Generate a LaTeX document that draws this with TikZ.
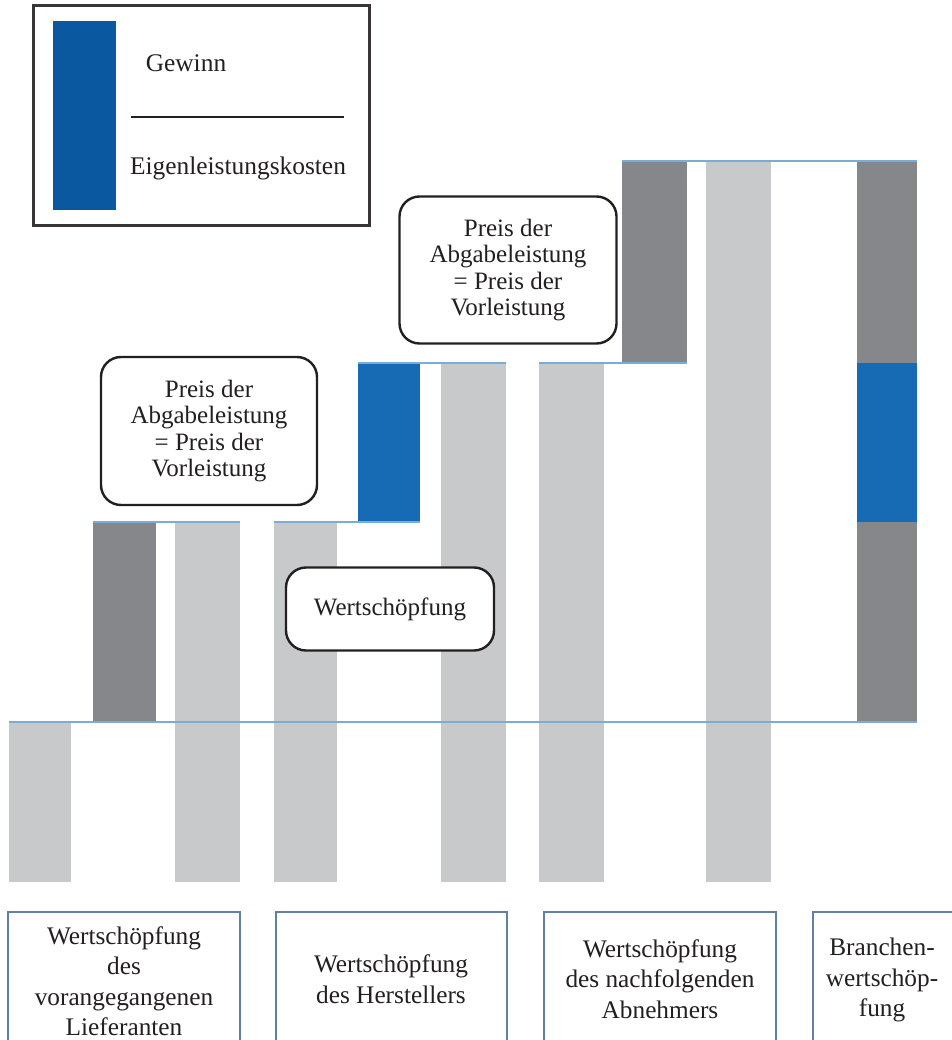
\documentclass[tikz,border=0pt]{standalone}
\usepackage{fontspec}
\setmainfont{Liberation Serif}
\usetikzlibrary{positioning}
\definecolor{BarLight}{RGB}{200,201,203}
\definecolor{BarDark}{RGB}{134,135,139}
\definecolor{BarBlue}{RGB}{23,107,180}
\definecolor{LegendBlue}{RGB}{10,88,160}
\definecolor{StepLine}{RGB}{122,172,216}
\definecolor{FrameBlue}{RGB}{98,128,162}
\definecolor{InkBlack}{RGB}{35,31,32}

\begin{document}
\begin{tikzpicture}[
    x=1pt, y=-1pt,
    light/.style={fill=BarLight},
    dark/.style={fill=BarDark},
    gain/.style={fill=BarBlue},
    level/.style={draw=StepLine, line width=2.2pt},
    callout/.style={draw=InkBlack, line width=2.4pt, rounded corners=20pt, fill=white, align=center, text=InkBlack, font=\fontsize{25}{26.5}\selectfont, inner sep=0pt},
    stage/.style={draw=FrameBlue, line width=2.4pt},
    stagetext/.style={align=center, text=InkBlack, font=\fontsize{25.3}{30.5}\selectfont}
]
    \useasboundingbox (0,0) rectangle (951,1040);

    % legend
    \draw[draw=InkBlack!90, line width=3pt] (33,6) rectangle (369,226);
    \fill[LegendBlue] (53,21) rectangle (116,210);
    \node[text=InkBlack, font=\fontsize{25.4}{27}\selectfont] (gewinn) at (186,63) {Gewinn};
    \node[text=InkBlack, font=\fontsize{25.4}{27}\selectfont] (kosten) at (238,168) {Eigenleistungskosten};
    \draw[draw=InkBlack, line width=2.6pt] (131,117) -- (344,117);

    % bars
    \fill[light] (9,722) rectangle (71,882);
    \fill[dark] (93,522) rectangle (156,722);
    \fill[light] (175,522) rectangle (240,882);
    \fill[light] (274,522) rectangle (337,882);
    \fill[gain] (358,363) rectangle (420,522);
    \fill[light] (441,363) rectangle (506,882);
    \fill[light] (539,363) rectangle (604,882);
    \fill[dark] (622,161) rectangle (687,363);
    \fill[light] (706,161) rectangle (771,882);
    \fill[dark] (857,161) rectangle (917,363);
    \fill[gain] (857,363) rectangle (917,522);
    \fill[dark] (857,522) rectangle (917,722);

    % levels
    \draw[draw=StepLine, line width=1.3pt] (9,722) -- (917,722);
    \draw[level] (93,522) -- (240,522);
    \draw[level] (274,522) -- (420,522);
    \draw[level] (358,363) -- (506,363);
    \draw[level] (539,363) -- (687,363);
    \draw[level] (622,161) -- (917,161);

    % callouts
    \node[callout, minimum width=216pt, minimum height=148pt] (preis1) at (209,431) {Preis der\\Abgabeleistung\\= Preis der\\Vorleistung};
    \node[callout, minimum width=217pt, minimum height=147pt] (preis2) at (508,270) {Preis der\\Abgabeleistung\\= Preis der\\Vorleistung};
    \node[callout, minimum width=208pt, minimum height=83pt] (wert) at (390,609) {Wertschöpfung};

    % stages
    \draw[stage] (8,912) rectangle (240,1046);
    \draw[stage] (276,912) rectangle (507,1046);
    \draw[stage] (544,912) rectangle (776,1046);
    \draw[stage] (813,912) rectangle (958,1046);
    \node[stagetext] (lieferant) at (124,981) {Wertschöpfung\\des\\vorangegangenen\\Lieferanten};
    \node[stagetext] (hersteller) at (391,979) {Wertschöpfung\\des Herstellers};
    \node[stagetext] (abnehmer) at (660,979) {Wertschöpfung\\des nachfolgenden\\Abnehmers};
    \node[stagetext] (branche) at (882,980) {Branchen-\\wertschöp-\\fung};
\end{tikzpicture}
\end{document}
